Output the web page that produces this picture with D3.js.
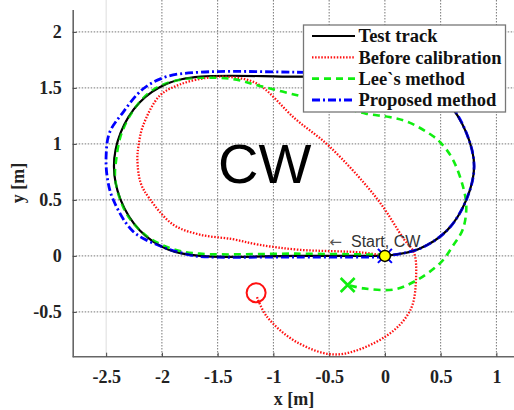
<!DOCTYPE html>
<html>
<head>
<script src="https://d3js.org/d3.v7.min.js"></script>
<style>
    body { margin: 0; background: #fff; }
    svg { display: block; }
</style>
</head>
<body>
<script>
var width = 514;
var height = 410;

// axis ticks
var xTicks = [-2.5, -2, -1.5, -1, -0.5, 0, 0.5, 1];
var yTicks = [-0.5, 0, 0.5, 1, 1.5, 2];

// test track (black)
var trackX = [0, -0.8, -1.65, -1.95, -2.2, -2.37, -2.43, -2.37, -2.2, -1.95, -1.65, -0.8, 0, 0.3, 0.56, 0.73, 0.8, 0.73, 0.56, 0.3, 0];
var trackY = [0, 0, 0, 0.06, 0.23, 0.5, 0.8, 1.1, 1.37, 1.54, 1.6, 1.6, 1.6, 1.54, 1.37, 1.1, 0.8, 0.5, 0.23, 0.06, 0];

// before calibration (red)
var beforeX = [0, -0.2, -0.77, -1.13, -1.37, -1.66, -1.9, -2.11, -2.19, -2.22, -2.21, -2.17, -2.02, -1.84, -1.6, -1.42, -1.15, -0.8, -0.5, -0.07, 0.17, 0.26, 0.28, 0.23, 0.02, -0.43, -0.79, -1.06, -1.15];
var beforeY = [0, 0.03, 0.055, 0.1, 0.15, 0.19, 0.28, 0.51, 0.65, 0.86, 0.98, 1.16, 1.43, 1.53, 1.59, 1.6, 1.54, 1.22, 0.98, 0.51, 0.15, 0.03, -0.18, -0.48, -0.71, -0.88, -0.77, -0.54, -0.36];

// Lee`s method (green)
var leeX = [0, -0.8, -1.66, -1.9, -2.14, -2.3, -2.38, -2.42, -2.41, -2.36, -2.22, -2.05, -1.85, -1.66, -1.37, -1.13, -0.77, -0.45, -0.17, 0.04, 0.22, 0.43, 0.51, 0.61, 0.7, 0.73, 0.7, 0.61, 0.5, 0.28, 0.08, -0.19, -0.33];
var leeY = [0.01, 0.02, 0.02, 0.06, 0.18, 0.35, 0.52, 0.7, 0.86, 1.1, 1.35, 1.5, 1.57, 1.59, 1.58, 1.52, 1.43, 1.35, 1.27, 1.24, 1.19, 1.07, 1.0, 0.86, 0.62, 0.44, 0.24, 0.09, -0.06, -0.22, -0.3, -0.29, -0.26];

// proposed method (blue)
var propX = [0, -0.8, -1.66, -1.78, -2.02, -2.26, -2.44, -2.49, -2.5, -2.47, -2.35, -2.17, -1.96, -1.66, -0.8, 0, 0.3, 0.56, 0.73, 0.8, 0.73, 0.56, 0.3, 0];
var propY = [-0.01, -0.01, -0.005, 0.015, 0.09, 0.22, 0.51, 0.7, 0.9, 1.1, 1.28, 1.49, 1.6, 1.64, 1.64, 1.62, 1.55, 1.38, 1.1, 0.8, 0.5, 0.23, 0.06, 0];

// end markers
var startPoint = [0, 0];
var redEnd = [-1.155, -0.33];
var greenEnd = [-0.334, -0.26];

var legendNames = ['Test track', 'Before calibration', 'Lee`s method', 'Proposed method'];

var svg = d3.select('body')
    .append('svg')
    .attr('width', width)
    .attr('height', height);

// scales
var xScale = d3.scaleLinear()
    .domain([-2.8, 1.2])
    .range([72.7, 518.7]);
var yScale = d3.scaleLinear()
    .domain([-0.9, 2.2])
    .range([356.7, 9.5]);

var left = xScale(-2.8), bottom = yScale(-0.9), top = yScale(2.2);

var fmt = d => String(d);
var serif = '"Liberation Serif", "Times New Roman", serif';

// grid
var grid = svg.append('g');
grid.selectAll('line.vx')
    .data(xTicks)
    .enter()
    .append('line')
    .attr('x1', d => xScale(d))
    .attr('x2', d => xScale(d))
    .attr('y1', top)
    .attr('y2', bottom)
    .attr('stroke', d => d == -2.5 ? '#ddd' : '#777')
    .attr('stroke-width', 1)
    .attr('stroke-dasharray', d => d == -2.5 ? null : '1.5,1.5');
grid.selectAll('line.hy')
    .data(yTicks)
    .enter()
    .append('line')
    .attr('x1', left)
    .attr('x2', width)
    .attr('y1', d => yScale(d))
    .attr('y2', d => yScale(d))
    .attr('stroke', '#777')
    .attr('stroke-width', 1)
    .attr('stroke-dasharray', '1.5,1.5');

// axes
var xAxis = d3.axisBottom(xScale).tickValues(xTicks).tickFormat(fmt).tickSizeInner(-4).tickSizeOuter(0).tickPadding(14);
var yAxis = d3.axisLeft(yScale).tickValues(yTicks).tickFormat(fmt).tickSizeInner(-4).tickSizeOuter(0).tickPadding(11);

var gx = svg.append('g')
    .attr('transform', 'translate(0,' + bottom + ')')
    .call(xAxis);
var gy = svg.append('g')
    .attr('transform', 'translate(' + left + ',0)')
    .call(yAxis);

[gx, gy].forEach(function (g) {
    g.select('.domain').attr('stroke', '#666').attr('stroke-width', 1.6);
    g.selectAll('.tick line').attr('stroke', '#444');
    g.selectAll('.tick text')
        .attr('fill', '#222')
        .style('font-family', serif)
        .style('font-weight', 'bold')
        .style('font-size', '18px');
});
gx.select('.domain').attr('d', 'M0,0H' + (width - left + 10)).attr('transform', 'translate(' + left + ',0)');

// axis titles
svg.append('text')
    .attr('x', 294)
    .attr('y', 405)
    .attr('text-anchor', 'middle')
    .style('font-family', serif)
    .style('font-weight', 'bold')
    .style('font-size', '18px')
    .attr('fill', '#222')
    .text('x [m]');
svg.append('text')
    .attr('transform', 'translate(24,183) rotate(-90)')
    .attr('text-anchor', 'middle')
    .style('font-family', serif)
    .style('font-weight', 'bold')
    .style('font-size', '18px')
    .attr('fill', '#222')
    .text('y [m]');

// big label
svg.append('text')
    .attr('x', 218)
    .attr('y', 183)
    .style('font-family', '"Liberation Sans", Arial, sans-serif')
    .style('font-size', '56px')
    .attr('fill', '#000')
    .text('CW');

// curves
var line = d3.line()
    .x(d => xScale(d[0]))
    .y(d => yScale(d[1]))
    .curve(d3.curveCatmullRom.alpha(0.5));

var series = [
    { x: trackX, y: trackY, color: '#000', width: 2.2, dash: null },
    { x: beforeX, y: beforeY, color: '#ff1010', width: 2.3, dash: '1.5,1.6' },
    { x: leeX, y: leeY, color: '#10ee10', width: 2.6, dash: '7,5' },
    { x: propX, y: propY, color: '#0000ff', width: 2.8, dash: '8,3,2,3' }
];

var plot = svg.append('g');
series.forEach(function (s) {
    plot.append('path')
        .datum(s.x.map((v, j) => [v, s.y[j]]))
        .attr('d', line)
        .attr('fill', 'none')
        .attr('stroke', s.color)
        .attr('stroke-width', s.width)
        .attr('stroke-dasharray', s.dash);
});
// black track shows through where curves overlap
plot.append('path')
    .datum(trackX.map((v, j) => [v, trackY[j]]))
    .attr('d', line)
    .attr('fill', 'none')
    .attr('stroke', '#000')
    .attr('stroke-width', 1.2)
    .attr('stroke-opacity', 0.6);

// red end circle
plot.append('circle')
    .attr('cx', xScale(redEnd[0]))
    .attr('cy', yScale(redEnd[1]))
    .attr('r', 9.5)
    .attr('fill', 'none')
    .attr('stroke', '#ff1010')
    .attr('stroke-width', 2);

// green end cross
var gxp = xScale(greenEnd[0]), gyp = yScale(greenEnd[1]);
plot.append('path')
    .attr('d', 'M' + (gxp - 7) + ',' + (gyp - 7) + 'L' + (gxp + 7) + ',' + (gyp + 7) + 'M' + (gxp - 7) + ',' + (gyp + 7) + 'L' + (gxp + 7) + ',' + (gyp - 7))
    .attr('stroke', '#10ee10')
    .attr('stroke-width', 2.6)
    .attr('fill', 'none');

// start marker
var sx = xScale(startPoint[0]), sy = yScale(startPoint[1]);
plot.append('path')
    .attr('d', 'M' + (sx - 7) + ',' + (sy - 7) + 'L' + (sx + 7) + ',' + (sy + 7) + 'M' + (sx - 7) + ',' + (sy + 7) + 'L' + (sx + 7) + ',' + (sy - 7))
    .attr('stroke', '#0000ff')
    .attr('stroke-width', 2)
    .attr('fill', 'none');
plot.append('circle')
    .attr('cx', sx)
    .attr('cy', sy)
    .attr('r', 5.5)
    .attr('fill', '#ffff00')
    .attr('stroke', '#000')
    .attr('stroke-width', 1.5);

// start annotation
svg.append('text')
    .attr('x', xScale(-0.5))
    .attr('y', 247)
    .style('font-family', '"DejaVu Sans", sans-serif')
    .style('font-size', '15px')
    .attr('fill', '#555')
    .text('\u2190');
svg.append('text')
    .attr('x', 351)
    .attr('y', 247)
    .style('font-family', '"Liberation Sans", Arial, sans-serif')
    .style('font-size', '16px')
    .attr('fill', '#333')
    .text('Start, CW');

// legend
var legend = svg.append('g').attr('id', 'legend');
legend.append('rect')
    .attr('x', 303.5)
    .attr('y', 25)
    .attr('width', 202)
    .attr('height', 87)
    .attr('fill', '#fff')
    .attr('stroke', '#777')
    .attr('stroke-width', 1.3);

var rowY = d3.scalePoint().domain(legendNames).range([36, 100]);
legendNames.forEach(function (name, i) {
    var s = series[i];
    legend.append('line')
        .attr('x1', 312)
        .attr('x2', 355)
        .attr('y1', rowY(name))
        .attr('y2', rowY(name))
        .attr('stroke', s.color)
        .attr('stroke-width', s.width)
        .attr('stroke-dasharray', s.dash);
    legend.append('text')
        .attr('x', 358.5)
        .attr('y', rowY(name))
        .attr('dy', '0.35em')
        .style('font-family', serif)
        .style('font-weight', 'bold')
        .style('font-size', '18.5px')
        .attr('fill', '#111')
        .text(name);
});
</script>
</body>
</html>
